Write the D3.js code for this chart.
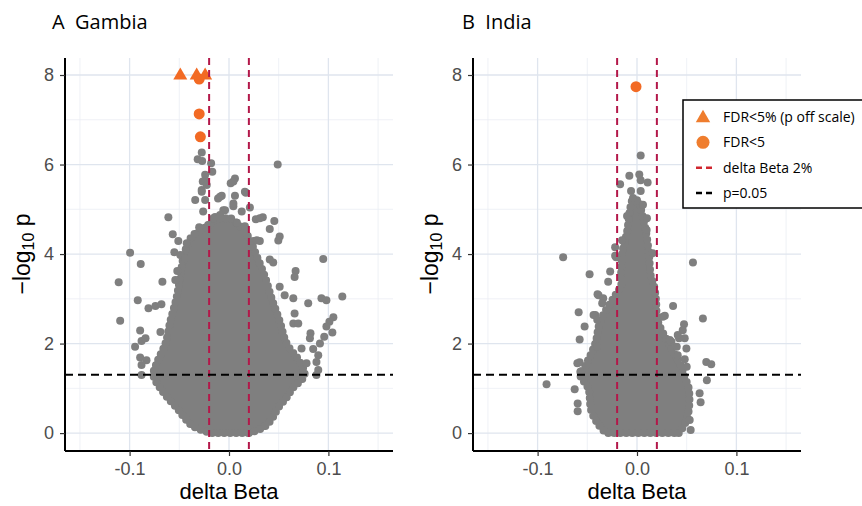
<!DOCTYPE html>
<html>
<head>
<meta charset="utf-8">
<script src="https://cdn.jsdelivr.net/npm/d3@7"></script>
<style>
  body { margin: 0; background: #fff; }
  svg { display: block; }
</style>
</head>
<body>
<svg id="chart" width="862" height="506"></svg>
<script>
// axis ticks
const xTicks = [-0.1, 0, 0.1];
const xMinor = [-0.15, -0.05, 0.05, 0.15];
const yTicks = [0, 2, 4, 6, 8];
const yMinor = [1, 3, 5, 7];
const deltaCut = [-0.02, 0.02];
const pCut = 1.301; // -log10(0.05)

// Gambia: outline of the dense cloud (-log10 p level, left and right delta Beta of edge points)
const gambiaCoreLp = [0.0, 0.15, 0.35, 0.55, 0.8, 1.0, 1.3, 1.6, 2.0, 2.5, 3.0, 3.5, 4.0, 4.4, 4.65, 4.8];
const gambiaCoreLo = [-0.018, -0.036, -0.045, -0.052, -0.062, -0.069, -0.076, -0.072, -0.064, -0.059, -0.053, -0.049, -0.045, -0.037, -0.020, -0.012];
const gambiaCoreHi = [0.020, 0.036, 0.044, 0.049, 0.058, 0.064, 0.076, 0.071, 0.058, 0.051, 0.043, 0.036, 0.027, 0.019, 0.010, 0.002];

// Gambia: single probes outside the cloud [delta Beta, -log10 p]
const gambiaPoints = [
  [-0.0274, 6.27], [-0.0315, 6.12], [-0.027, 6.08], [-0.018, 6.03], [0.049, 6.00],
  [-0.0168, 5.84], [0.006, 5.69], [0.0017, 5.58], [-0.024, 5.65], [-0.0275, 5.43],
  [0.017, 5.37], [-0.0073, 5.30], [0.006, 5.30], [-0.034, 5.21], [-0.011, 5.24],
  [0.021, 5.04], [0.0044, 5.07], [-0.061, 4.82], [-0.014, 4.83], [-0.0057, 4.98],
  [0.027, 4.78], [0.034, 4.82], [0.0456, 4.74], [0.041, 4.56], [0.051, 4.39],
  [0.0496, 4.30], [-0.0566, 4.44], [-0.051, 4.29], [-0.0425, 4.24], [0.025, 4.29],
  [0.031, 4.29], [-0.0995, 4.03], [-0.055, 4.04], [-0.049, 3.98], [0.0948, 3.89],
  [-0.0888, 3.78], [-0.044, 3.90], [0.041, 3.88], [0.0445, 3.81], [0.067, 3.62],
  [0.066, 3.49], [-0.111, 3.37], [-0.067, 3.38], [-0.052, 3.62], [-0.054, 3.42],
  [0.051, 3.27], [-0.0918, 2.97], [-0.081, 2.79], [-0.074, 2.84], [-0.068, 2.88],
  [-0.1095, 2.51], [-0.0894, 2.29], [-0.088, 2.06], [-0.084, 2.12], [-0.0945, 1.93],
  [-0.0894, 1.69], [-0.083, 1.63], [-0.088, 1.52], [-0.088, 1.30], [-0.069, 2.26],
  [0.056, 3.08], [0.0647, 3.01], [0.0797, 2.90], [0.093, 3.01], [0.098, 2.97],
  [0.114, 3.05], [0.066, 2.67], [0.0647, 2.45], [0.0697, 2.45], [0.105, 2.59],
  [0.101, 2.49], [0.098, 2.38], [0.104, 2.25], [0.0958, 2.15], [0.0915, 2.00],
  [0.082, 2.23], [0.0814, 2.12], [0.073, 1.89], [0.0847, 1.88], [0.0898, 1.74],
  [0.088, 1.59], [0.0898, 1.41], [0.088, 1.30], [0.078, 1.56],
  [-0.024, 5.77], [-0.0264, 5.62], [-0.0224, 5.54], [-0.0274, 5.39], [-0.024, 5.21],
  [-0.026, 4.95], [0.0044, 5.62], [0.016, 5.39], [-0.009, 5.28], [-0.004, 4.98],
  [-0.009, 4.87], [0.0044, 5.13], [0.0128, 4.95], [0.031, 4.80], [0.028, 4.31],
  [-0.0158, 4.80], [-0.030, 4.60], [-0.021, 4.65], [0.008, 4.70], [0.016, 4.62]
];
const gambiaOffScale = [-0.049, -0.0325, -0.024];
const gambiaFdr = [[-0.030, 7.91], [-0.030, 7.13], [-0.0288, 6.62]];

// India
const indiaCoreLp = [0.0, 0.2, 0.5, 1.0, 1.3, 1.5, 2.0, 2.5, 3.0, 3.3, 3.5, 4.0, 4.5, 5.0, 5.2];
const indiaCoreLo = [-0.031, -0.039, -0.046, -0.049, -0.057, -0.052, -0.042, -0.037, -0.024, -0.016, -0.016, -0.015, -0.010, -0.007, -0.005];
const indiaCoreHi = [0.042, 0.048, 0.052, 0.052, 0.047, 0.044, 0.032, 0.021, 0.019, 0.017, 0.014, 0.012, 0.009, 0.004, 0.002];

const indiaPoints = [
  [0.0037, 6.20], [-0.0077, 5.75], [0.0023, 5.78], [0.0037, 5.65], [0.0107, 5.60],
  [-0.017, 5.56], [-0.006, 5.41], [0.0037, 5.41], [-0.0743, 3.93], [0.0563, 3.81],
  [-0.0477, 3.55], [-0.027, 3.61], [-0.029, 3.38], [-0.022, 4.15], [-0.021, 3.93],
  [-0.015, 4.31], [0.0157, 4.02], [0.0097, 4.54],
  [-0.0587, 2.70], [-0.0527, 2.38], [-0.0577, 2.09], [-0.0387, 3.08], [-0.042, 2.64],
  [-0.0577, 1.58], [-0.091, 1.09], [-0.0627, 0.98], [-0.0597, 0.66], [-0.0597, 0.49],
  [0.0363, 2.84], [0.0663, 2.56], [0.0473, 2.43], [0.028, 2.62], [0.0423, 2.12],
  [0.0347, 2.04], [0.0497, 1.89], [0.048, 1.65], [0.0697, 1.59], [0.0747, 1.54],
  [0.0703, 1.18], [0.063, 0.89], [0.064, 0.69], [0.053, 0.29], [0.054, 0.07],
  [0.046, 2.30],
  [-0.022, 3.96], [-0.0397, 3.10], [-0.034, 3.01], [-0.035, 2.90], [-0.0437, 2.64],
  [-0.040, 2.53], [0.026, 2.60], [0.041, 2.19], [0.048, 2.12], [0.033, 2.08],
  [0.040, 1.93], [0.041, 1.74], [0.050, 1.48], [-0.060, 1.56], [-0.057, 1.37],
  [-0.040, 1.93], [-0.004, 5.25], [0.006, 5.10], [-0.010, 4.85], [0.010, 4.80]
];
const indiaOffScale = [];
const indiaFdr = [[-0.001, 7.74]];

const legendLabels = ['FDR<5% (p off scale)', 'FDR<5', 'delta Beta 2%', 'p=0.05'];

const svg = d3.select('#chart');
const grey = '#7f7f7f';
const orange = '#f26a24';
const red = '#b3184a';
const axisFont = '"Liberation Sans", Arial, sans-serif';
const textFont = '"Open Sans", sans-serif';

function drawPanel(opt) {
  const x = d3.scaleLinear().domain([-0.165, 0.165]).range([opt.left, opt.right]);
  const y = d3.scaleLinear().domain([-0.4, 8.38]).range([451, 58]);
  const g = svg.append('g');

  // grid
  g.selectAll('.vmin').data(xMinor).join('line')
    .attr('x1', d => x(d)).attr('x2', d => x(d)).attr('y1', y.range()[1]).attr('y2', y.range()[0])
    .attr('stroke', '#ebeef4').attr('stroke-width', 0.8);
  g.selectAll('.hmin').data(yMinor).join('line')
    .attr('x1', opt.left).attr('x2', opt.right).attr('y1', d => y(d)).attr('y2', d => y(d))
    .attr('stroke', '#ebeef4').attr('stroke-width', 0.8);
  g.selectAll('.vmaj').data(xTicks).join('line')
    .attr('x1', d => x(d)).attr('x2', d => x(d)).attr('y1', y.range()[1]).attr('y2', y.range()[0])
    .attr('stroke', '#dfe5ee').attr('stroke-width', 1.3);
  g.selectAll('.hmaj').data(yTicks).join('line')
    .attr('x1', opt.left).attr('x2', opt.right).attr('y1', d => y(d)).attr('y2', d => y(d))
    .attr('stroke', '#dfe5ee').attr('stroke-width', 1.3);

  // dense cloud: fill plus a dotted rim so the edge looks like overlapping points
  const core = opt.lp.map((v, i) => ({ lp: v, lo: opt.lo[i], hi: opt.hi[i] }));
  const area = d3.area()
    .y(d => y(d.lp))
    .x0(d => x(d.lo))
    .x1(d => x(d.hi))
    .curve(d3.curveCatmullRom);
  g.append('path').datum(core)
    .attr('d', area)
    .attr('fill', grey)
    .attr('stroke', grey).attr('stroke-width', 8)
    .attr('stroke-linecap', 'round').attr('stroke-dasharray', '0,6');

  g.selectAll('.pt').data(opt.points).join('circle')
    .attr('cx', d => x(d[0])).attr('cy', d => y(d[1])).attr('r', 4)
    .attr('fill', grey);

  // significant
  g.selectAll('.fdr').data(opt.fdr).join('circle')
    .attr('cx', d => x(d[0])).attr('cy', d => y(d[1])).attr('r', 5.5)
    .attr('fill', orange);
  const tri = d3.symbol().type(d3.symbolTriangle).size(85);
  g.selectAll('.off').data(opt.off).join('path')
    .attr('d', tri)
    .attr('transform', d => 'translate(' + x(d) + ',' + (y(8) + 0.5) + ')')
    .attr('fill', orange);

  // threshold lines
  g.selectAll('.dcut').data(deltaCut).join('line')
    .attr('x1', d => x(d)).attr('x2', d => x(d)).attr('y1', y.range()[1]).attr('y2', y.range()[0])
    .attr('stroke', red).attr('stroke-width', 2).attr('stroke-dasharray', '7,5');
  g.append('line')
    .attr('x1', opt.left).attr('x2', opt.right).attr('y1', y(pCut)).attr('y2', y(pCut))
    .attr('stroke', '#000').attr('stroke-width', 2).attr('stroke-dasharray', '8,5');

  // axes
  const xAxis = g.append('g')
    .attr('transform', 'translate(0,451)')
    .call(d3.axisBottom(x).tickValues(xTicks).tickFormat(d3.format('.1f')).tickSize(5).tickPadding(6));
  const yAxis = g.append('g')
    .attr('transform', 'translate(' + opt.left + ',0)')
    .call(d3.axisLeft(y).tickValues(yTicks).tickSize(5).tickPadding(6));
  [xAxis, yAxis].forEach(a => {
    a.attr('font-family', null);
    a.select('.domain').attr('stroke', '#000').attr('stroke-width', 2);
    a.selectAll('.tick line').attr('stroke', '#333').attr('stroke-width', 1.2);
    a.selectAll('.tick text')
      .attr('fill', '#4d4d4d')
      .style('font-family', axisFont)
      .style('font-size', '18px');
  });
  xAxis.selectAll('.tick text').text(d => d3.format('.1f')(d).replace('\u2212', '-'));
  xAxis.select('.domain').attr('d', 'M' + opt.left + ',0H' + opt.right);
  yAxis.select('.domain').attr('d', 'M0,' + y.range()[1] + 'V451');

  // axis titles
  g.append('text')
    .attr('x', (opt.left + opt.right) / 2).attr('y', 499)
    .attr('text-anchor', 'middle')
    .style('font-family', axisFont)
    .style('font-size', '22px')
    .text('delta Beta');
  const yl = g.append('text')
    .attr('transform', 'translate(' + (opt.left - 35) + ',254) rotate(-90)')
    .attr('text-anchor', 'middle')
    .style('font-family', axisFont)
    .style('font-size', '23px');
  yl.append('tspan').text('\u2212log');
  yl.append('tspan').attr('baseline-shift', '-25%').style('font-size', '16px').text('10');
  yl.append('tspan').text(' p');

  // panel title
  svg.append('text')
    .attr('x', opt.titleX).attr('y', 29)
    .style('font-family', textFont)
    .style('font-size', '20px')
    .attr('xml:space', 'preserve')
    .text(opt.title);
}

drawPanel({
  left: 65, right: 393, title: 'A  Gambia', titleX: 52,
  lp: gambiaCoreLp, lo: gambiaCoreLo, hi: gambiaCoreHi,
  points: gambiaPoints, fdr: gambiaFdr, off: gambiaOffScale
});
drawPanel({
  left: 473, right: 801, title: 'B  India', titleX: 462,
  lp: indiaCoreLp, lo: indiaCoreLo, hi: indiaCoreHi,
  points: indiaPoints, fdr: indiaFdr, off: indiaOffScale
});

// legend
const legend = svg.append('g');
legend.append('rect')
  .attr('x', 683).attr('y', 100).attr('width', 190).attr('height', 108)
  .attr('fill', '#fff').attr('stroke', '#000').attr('stroke-width', 1.5);
const rowY = d3.scalePoint().domain(legendLabels).range([117, 193]);
legend.selectAll('.lt').data(legendLabels).join('text')
  .attr('x', 723).attr('y', d => rowY(d)).attr('dy', '0.36em')
  .style('font-family', textFont)
  .style('font-size', '14px')
  .text(d => d);
legend.append('path')
  .attr('d', d3.symbol().type(d3.symbolTriangle).size(90))
  .attr('transform', 'translate(703,' + (rowY(legendLabels[0]) + 1) + ')')
  .attr('fill', '#ef7d2e');
legend.append('circle')
  .attr('cx', 703).attr('cy', rowY(legendLabels[1])).attr('r', 6.5)
  .attr('fill', '#ef7d2e');
legend.append('line')
  .attr('x1', 696).attr('x2', 712).attr('y1', rowY(legendLabels[2])).attr('y2', rowY(legendLabels[2]))
  .attr('stroke', '#d0262f').attr('stroke-width', 2.5).attr('stroke-dasharray', '6,4');
legend.append('line')
  .attr('x1', 696).attr('x2', 712).attr('y1', rowY(legendLabels[3])).attr('y2', rowY(legendLabels[3]))
  .attr('stroke', '#000').attr('stroke-width', 2.5).attr('stroke-dasharray', '6,4');
</script>
</body>
</html>
